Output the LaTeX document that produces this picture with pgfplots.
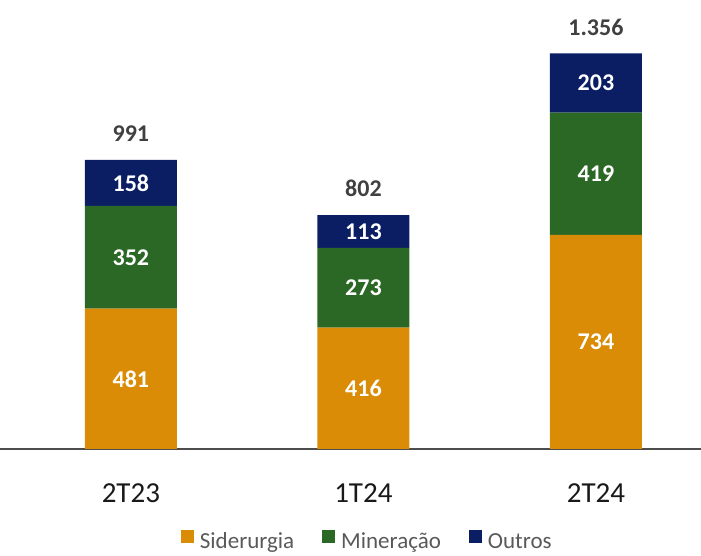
\documentclass[border=0pt]{standalone}
\usepackage{fontspec}
\setmainfont{Carlito}
\usepackage{pgfplots}
\pgfplotsset{compat=1.18}
\definecolor{sider}{HTML}{DA8C06}
\definecolor{miner}{HTML}{2C6825}
\definecolor{outros}{HTML}{0B1E64}
\definecolor{txtdark}{HTML}{404040}

\begin{document}
\begin{tikzpicture}
  % escala: 1 px da figura = 1 pt; 1 unidade = 0.2917 pt
  \pgfplotsset{
    base/.style={
      name=#1,
      at={(0,0)}, anchor=south west,
      scale only axis,
      width=701pt, height=449pt,
      xmin=-0.563, xmax=2.452,
      ymin=0, ymax=1539,
      clip=false,
    },
  }

  \begin{axis}[
    base=ax,
    ybar stacked,
    bar width=92pt,
    axis x line*=bottom,
    axis y line=none,
    x axis line style={-, draw=black!70, line width=1.6pt},
    xtick={0,1,2},
    xticklabels={2T23,1T24,2T24},
    major tick length=0pt,
    xticklabel style={
      anchor=center, yshift=-44pt, text=black!90,
      font=\fontsize{29}{31}\selectfont
    },
    ytick=\empty,
    legend style={
      at={(0.524,-0.205)}, anchor=center,
      draw=none, fill=none,
      font=\fontsize{23}{25}\selectfont,
      text=black!65,
      /tikz/every odd column/.append style={column sep=4pt},
      /tikz/every even column/.append style={column sep=26pt},
    },
    legend columns=3,
    legend image code/.code={
      \fill[#1] (0pt,-1pt) rectangle (13pt,12pt);
    },
  ]
    \addplot[fill=sider, draw=none] coordinates {(0,481) (1,416) (2,734)};
    \addlegendentry{Siderurgia}
    \addplot[fill=miner, draw=none] coordinates {(0,352) (1,273) (2,419)};
    \addlegendentry{Mineração}
    \addplot[fill=outros, draw=none] coordinates {(0,158) (1,113) (2,203)};
    \addlegendentry{Outros}
  \end{axis}

  % rótulos dentro dos segmentos e totais acima das barras
  \begin{axis}[
    base=tot,
    axis lines=none,
    ticks=none,
  ]
    \addplot[
      draw=none, mark=none,
      nodes near coords,
      point meta=explicit symbolic,
      nodes near coords style={
        anchor=center, inner sep=0pt,
        text=white,
        font=\fontsize{24}{26}\selectfont\bfseries,
      },
    ] coordinates {
      (0,240.5) [481] (0,657) [352] (0,912) [158]
      (1,208) [416] (1,552.5) [273] (1,745.5) [113]
      (2,367) [734] (2,943.5) [419] (2,1254.5) [203]
    };
    \addplot[
      draw=none, mark=none,
      nodes near coords,
      point meta=explicit symbolic,
      nodes near coords style={
        anchor=south, inner sep=0pt, yshift=18pt,
        text=txtdark,
        font=\fontsize{24}{26}\selectfont\bfseries,
      },
    ] coordinates {(0,991) [991] (1,802) [802] (2,1356) [1.356]};
  \end{axis}

  \pgfresetboundingbox
  \path (ax.south west) ++(0,-107pt) rectangle (ax.north east);
\end{tikzpicture}
\end{document}
